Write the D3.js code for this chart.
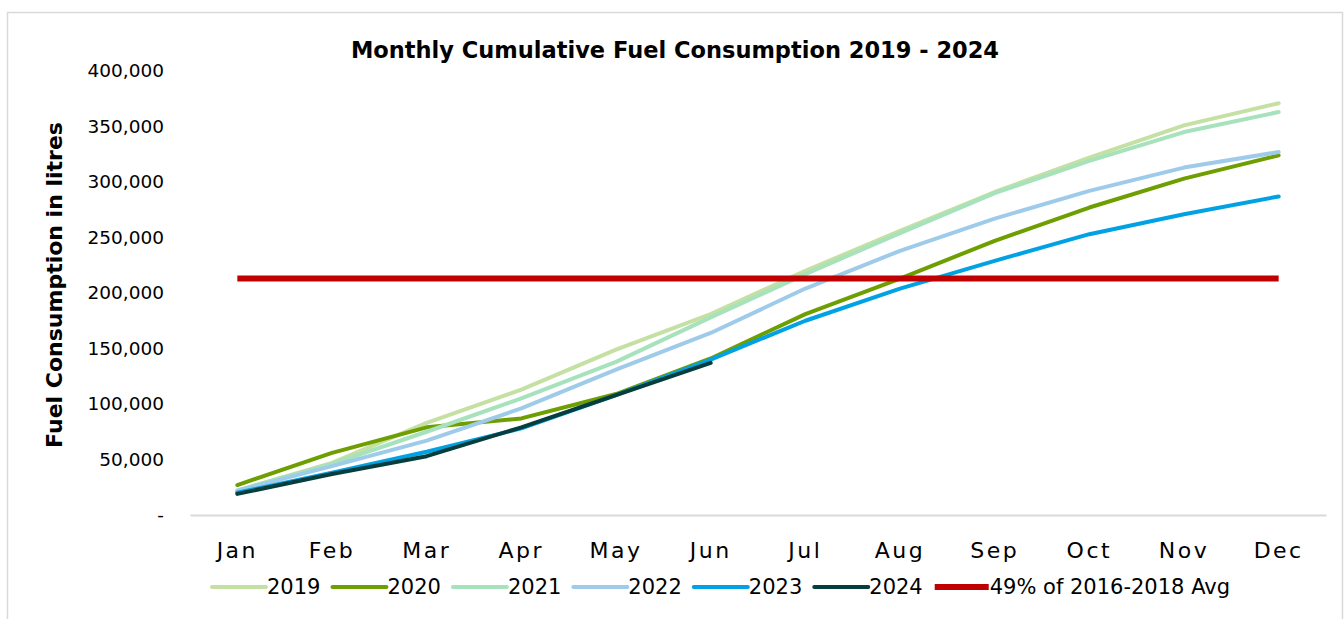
<!DOCTYPE html>
<html>
<head>
<meta charset="utf-8">
<script src="https://cdn.jsdelivr.net/npm/d3@7"></script>
<style>
    body { margin: 0; background: #fff; }
    svg { display: block; font-family: "Century Gothic", "DejaVu Sans", sans-serif; }
</style>
</head>
<body>
<svg id="chart" width="1344" height="619"></svg>
<script>
// chart values (litres, cumulative)
var months = ["Jan", "Feb", "Mar", "Apr", "May", "Jun", "Jul", "Aug", "Sep", "Oct", "Nov", "Dec"];
var years = ["2019", "2020", "2021", "2022", "2023", "2024"];
var values2019 = [22000, 47000, 83000, 113000, 149000, 181000, 220000, 256000, 291000, 322000, 351000, 371000];
var values2020 = [27000, 56000, 79000, 87000, 109000, 141000, 181000, 213000, 247000, 277000, 303000, 324000];
var values2021 = [22000, 46000, 75000, 105000, 138000, 178000, 217000, 254000, 290000, 319000, 345000, 363000];
var values2022 = [22000, 44000, 67000, 96000, 131000, 164000, 204000, 238000, 267000, 292000, 313000, 327000];
var values2023 = [20000, 38000, 57000, 78000, 108000, 140000, 175000, 204000, 229000, 253000, 271000, 287000];
var values2024 = [19000, 37000, 53000, 79000, 108000, 137000];
var avgLabel = "49% of 2016-2018 Avg";
var avgValue = 213000;
var yTicks = [0, 50000, 100000, 150000, 200000, 250000, 300000, 350000, 400000];
var colors = ["#c5e0a3", "#6e9e00", "#a6e2bc", "#9fcbea", "#00a2e3", "#073d3d"];
var avgColor = "#c00000";

var seriesValues = [values2019, values2020, values2021, values2022, values2023, values2024];

var svg = d3.select("#chart");

svg.append("rect")
    .attr("x", 7.5).attr("y", 12.5)
    .attr("width", 1335).attr("height", 640)
    .attr("fill", "#fff")
    .attr("stroke", "#d9d9d9")
    .attr("stroke-width", 1.5);

var x = d3.scaleBand().domain(months).range([190, 1326]);
var y = d3.scaleLinear().domain([0, 400000]).range([515, 71]);

function cx(m) { return x(m) + x.bandwidth() / 2; }

// title
svg.append("text")
    .attr("x", 675).attr("y", 58)
    .attr("text-anchor", "middle")
    .attr("font-weight", "bold")
    .attr("font-size", 22.5)
    .text("Monthly Cumulative Fuel Consumption 2019 - 2024");

// y axis
var yAxis = svg.append("g")
    .attr("transform", "translate(170,0)")
    .call(d3.axisLeft(y).tickValues(yTicks).tickSize(0).tickPadding(6)
        .tickFormat(function (d) { return d === 0 ? "-" : d3.format(",")(d); }));
yAxis.attr("font-family", null).attr("font-size", null);
yAxis.select(".domain").remove();
yAxis.selectAll("text")
    .attr("font-size", 18.5)
    .attr("fill", "#000");

svg.append("text")
    .attr("transform", "translate(62,285) rotate(-90)")
    .attr("text-anchor", "middle")
    .attr("font-weight", "bold")
    .attr("font-size", 22)
    .text("Fuel Consumption in litres");

// x axis
var xAxis = svg.append("g")
    .attr("transform", "translate(0,515)")
    .call(d3.axisBottom(x).tickSize(0).tickPadding(27));
xAxis.attr("font-family", null).attr("font-size", null);
xAxis.select(".domain")
    .attr("stroke", "#d9d9d9")
    .attr("stroke-width", 2);
xAxis.selectAll("text")
    .attr("font-size", 22)
    .attr("letter-spacing", 2.5)
    .attr("fill", "#000");

// series lines
var line = d3.line()
    .x(function (d, i) { return cx(months[i]); })
    .y(function (d) { return y(d); });

seriesValues.forEach(function (vals, i) {
    svg.append("path")
        .attr("d", line(vals))
        .attr("fill", "none")
        .attr("stroke", colors[i])
        .attr("stroke-width", 4)
        .attr("stroke-linecap", "round")
        .attr("stroke-linejoin", "round");
});

// average line
var avgValues = months.map(function () { return avgValue; });
svg.append("path")
    .attr("d", line(avgValues))
    .attr("fill", "none")
    .attr("stroke", avgColor)
    .attr("stroke-width", 6);

// legend
var legendItems = years.map(function (yr, i) { return { label: yr, color: colors[i], width: 4 }; });
legendItems.push({ label: avgLabel, color: avgColor, width: 6 });

var legend = svg.append("g");
var lx = 212;
var ly = 587;
legendItems.forEach(function (item) {
    legend.append("line")
        .attr("x1", lx).attr("x2", lx + 54)
        .attr("y1", ly).attr("y2", ly)
        .attr("stroke", item.color)
        .attr("stroke-width", item.width)
        .attr("stroke-linecap", item.width === 6 ? "butt" : "round");
    var t = legend.append("text")
        .attr("x", lx + 55).attr("y", ly)
        .attr("dy", "0.35em")
        .attr("font-size", 21)
        .text(item.label);
    lx += 55 + t.node().getComputedTextLength() + 12;
});
</script>
</body>
</html>
